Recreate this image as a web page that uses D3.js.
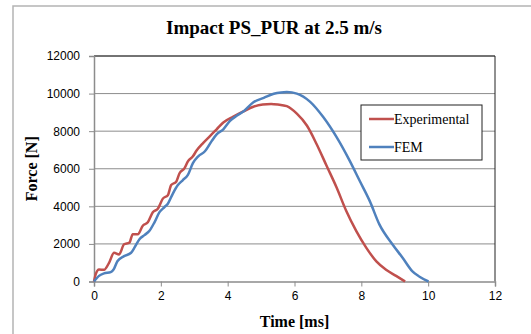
<!DOCTYPE html>
<html>
<head>
<meta charset="utf-8">
<script src="https://cdn.jsdelivr.net/npm/d3@7"></script>
<style>
  body { margin: 0; background: #fff; }
  svg { display: block; }
</style>
</head>
<body>
<svg id="chart" width="531" height="334"></svg>
<script>
// time [ms], force [N]
const experimental = [
  [0, 0], [0.05, 380], [0.15, 640], [0.3, 620], [0.45, 990], [0.6, 1530], [0.75, 1440],
  [0.9, 1980], [1.06, 2070], [1.16, 2520], [1.31, 2520], [1.46, 2970], [1.61, 3150],
  [1.76, 3690], [1.91, 3870], [2.06, 4410], [2.21, 4590], [2.31, 5130], [2.46, 5310],
  [2.56, 5760], [2.71, 6030], [2.81, 6390], [2.96, 6660], [3.07, 6970], [3.27, 7380],
  [3.47, 7740], [3.67, 8100], [3.87, 8460], [4.17, 8770], [4.47, 9050], [4.77, 9300],
  [5.05, 9420], [5.3, 9450], [5.5, 9420], [5.77, 9330], [6.07, 8930], [6.37, 8300],
  [6.66, 7320], [6.96, 6160], [7.26, 5000], [7.55, 3750], [7.85, 2680], [8.15, 1790],
  [8.45, 1070], [8.74, 625], [9.04, 300], [9.31, 0]
];
const fem = [
  [0, 0], [0.15, 300], [0.3, 430], [0.5, 500], [0.58, 620], [0.7, 1080], [0.9, 1350],
  [1.11, 1530], [1.21, 1800], [1.36, 2250], [1.51, 2470], [1.66, 2700], [1.81, 3150],
  [1.96, 3690], [2.11, 3960], [2.21, 4140], [2.36, 4680], [2.51, 5130], [2.66, 5400],
  [2.81, 5670], [2.96, 6300], [3.12, 6660], [3.32, 6930], [3.52, 7470], [3.67, 7830],
  [3.87, 8100], [4.07, 8550], [4.27, 8820], [4.47, 9050], [4.77, 9540], [5.08, 9770],
  [5.38, 9990], [5.6, 10060], [5.77, 10080], [6.07, 10000], [6.47, 9560], [6.86, 8750],
  [7.26, 7680], [7.65, 6430], [7.95, 5360], [8.25, 4290], [8.54, 3040], [8.94, 1960],
  [9.24, 1250], [9.53, 540], [9.73, 270], [10.01, 0]
];
const seriesNames = ["Experimental", "FEM"];
const seriesColors = ["#C0504D", "#4F81BD"];
const xTicks = [0, 2, 4, 6, 8, 10, 12];
const yTicks = [0, 2000, 4000, 6000, 8000, 10000, 12000];

const svg = d3.select("#chart");
const plot = { left: 94, right: 495, top: 56, bottom: 281.5 };

// outer chart frame
svg.append("path")
  .attr("d", "M13,340 V6 H540")
  .attr("fill", "none")
  .attr("stroke", "#b4b4b4")
  .attr("stroke-width", 1.5);

const x = d3.scaleLinear().domain([0, 12]).range([plot.left, plot.right]);
const y = d3.scaleLinear().domain([0, 12000]).range([plot.bottom, plot.top]);

// gridlines
svg.append("g")
  .selectAll("line")
  .data(yTicks.slice(1))
  .enter()
  .append("line")
  .attr("x1", plot.left)
  .attr("x2", plot.right)
  .attr("y1", (d) => y(d))
  .attr("y2", (d) => y(d))
  .attr("stroke", "#8c8c8c")
  .attr("stroke-width", 1);

// top + right border of plot area
svg.append("path")
  .attr("d", `M${plot.left},${plot.top} H${plot.right} V${plot.bottom}`)
  .attr("fill", "none")
  .attr("stroke", "#222")
  .attr("stroke-width", 1);

const xAxis = svg.append("g")
  .attr("transform", `translate(0,${plot.bottom})`)
  .call(d3.axisBottom(x).tickValues(xTicks).tickSize(5).tickPadding(5));

const yAxis = svg.append("g")
  .attr("transform", `translate(${plot.left},0)`)
  .call(d3.axisLeft(y).tickValues(yTicks).tickSize(5).tickPadding(9).tickFormat(d3.format("d")));

[xAxis, yAxis].forEach((a) => {
  a.select(".domain").attr("stroke", "#8c8c8c").attr("stroke-width", 1.5);
  a.selectAll(".tick line").attr("stroke", "#8c8c8c").attr("stroke-width", 1);
  a.selectAll("text")
    .attr("fill", "#000")
    .style("font-family", "'Liberation Sans', Arial, sans-serif")
    .style("font-size", "12px");
});

const line = d3.line()
  .x((d) => x(d[0]))
  .y((d) => y(d[1]))
  .curve(d3.curveMonotoneX);

[experimental, fem].forEach((data, i) => {
  svg.append("path")
    .datum(data)
    .attr("d", line)
    .attr("fill", "none")
    .attr("stroke", seriesColors[i])
    .attr("stroke-width", 2.5)
    .attr("stroke-linejoin", "round");
});

// titles
svg.append("text")
  .attr("x", 274)
  .attr("y", 34)
  .attr("text-anchor", "middle")
  .style("font-family", "'Liberation Serif', 'Times New Roman', serif")
  .style("font-weight", "bold")
  .style("font-size", "19px")
  .text("Impact PS_PUR at 2.5 m/s");

svg.append("text")
  .attr("x", (plot.left + plot.right) / 2)
  .attr("y", 327)
  .attr("text-anchor", "middle")
  .style("font-family", "'Liberation Serif', 'Times New Roman', serif")
  .style("font-weight", "bold")
  .style("font-size", "16px")
  .text("Time [ms]");

svg.append("text")
  .attr("transform", `translate(37,${(plot.top + plot.bottom) / 2}) rotate(-90)`)
  .attr("text-anchor", "middle")
  .style("font-family", "'Liberation Serif', 'Times New Roman', serif")
  .style("font-weight", "bold")
  .style("font-size", "16px")
  .text("Force [N]");

// legend
const legend = svg.append("g").attr("transform", "translate(361,105)");
legend.append("rect")
  .attr("width", 121)
  .attr("height", 55)
  .attr("fill", "#fff")
  .attr("stroke", "#222")
  .attr("stroke-width", 1);

const entry = legend.selectAll("g.entry")
  .data(seriesNames)
  .enter()
  .append("g")
  .attr("class", "entry")
  .attr("transform", (d, i) => `translate(0,${14 + i * 28})`);

entry.append("line")
  .attr("x1", 8)
  .attr("x2", 33)
  .attr("stroke", (d, i) => seriesColors[i])
  .attr("stroke-width", 2.5);

entry.append("text")
  .attr("x", 33)
  .attr("y", 5)
  .style("font-family", "'Liberation Serif', 'Times New Roman', serif")
  .style("font-size", "14px")
  .text((d) => d);
</script>
</body>
</html>
